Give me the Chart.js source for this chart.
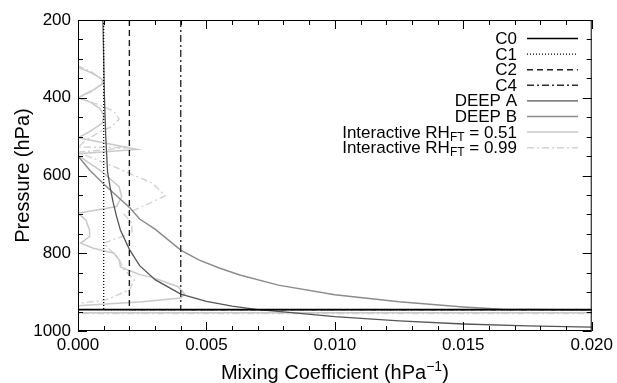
<!DOCTYPE html>
<html>
<head>
<meta charset="utf-8">
<script src="https://cdn.jsdelivr.net/npm/chart.js@4/dist/chart.umd.min.js"></script>
<style>
  html, body { margin: 0; padding: 0; background: #fff; }
</style>
</head>
<body>
<canvas id="chart" width="617" height="383"></canvas>
<script>
// mixing coefficient values are in units of 1e-3 hPa^-1, pressures in hPa
const c0X = [0, 0, 21];
const c0P = [200, 945, 945];
const c1X = [1, 1, 21];
const c1P = [200, 945, 945];
const c2X = [2, 2, 21];
const c2P = [200, 945, 945];
const c4X = [4, 4, 21];
const c4P = [200, 945, 945];

const deepAX = [0.97, 1.0, 1.03, 1.08, 1.15, 1.25, 1.37, 1.5, 1.65, 2.0, 2.4, 3.0, 4.0, 5.0, 6.0, 7.0, 8.0, 10.0, 12.5, 15.0, 17.5, 20.0];
const deepAP = [200, 300, 400, 500, 590, 630, 670, 705, 740, 790, 832, 868, 905, 924, 936, 945, 951, 963, 974, 982, 987, 990];

const deepBX = [0, 0, 0.45, 1.0, 1.5, 2.0, 2.4, 3.0, 4.0, 4.7, 5.5, 6.3, 7.8, 10.0, 12.5, 15.0, 16.5, 20.0, 21];
const deepBP = [200, 550, 586, 622, 652, 682, 712, 738, 792, 817, 838, 856, 882, 907, 925, 938, 944, 946, 946];

const rh51X = [0, 0, 0.5, 0.9, 1.0, 0.6, 0.2, 0, 0.5, 0.85, 1.0, 0.95, 0.5, 0, 1.0, 2.3, 0, 0, 0.85, 1.6, 1.7, 1.5, 0, 0.3, 0.45, 0.45, 0.1, 0.6, 1.4, 1.6, 1.65, 2.1, 2.4, 2.9, 3.9, 4.15, 4.0, 2.5, 0, 0, 21];
const rh51P = [200, 322, 335, 350, 362, 380, 393, 400, 412, 428, 445, 465, 485, 503, 516, 533, 544, 548, 586, 629, 654, 680, 697, 714, 740, 757, 774, 787, 800, 817, 835, 847, 855, 862, 886, 905, 915, 925, 935, 953, 953];

const rh99X = [0, 0, 0.5, 0.9, 0.95, 0.5, 0, 0.7, 1.4, 1.6, 1.3, 0.9, 0.3, 0, 2.0, 0, 1.5, 2.9, 3.4, 2.5, 1.8, 2.1, 2.1, 1.0, 1.6, 1.8, 2.2, 2.0, 1.1, 0, 0, 21];
const rh99P = [200, 318, 332, 352, 365, 385, 400, 415, 435, 455, 475, 485, 510, 527, 528, 540, 580, 620, 652, 680, 700, 722, 748, 774, 815, 843, 869, 894, 920, 929, 955, 955];

const seriesLabels = ['C0', 'C1', 'C2', 'C4', 'DEEP A', 'DEEP B', 'Interactive RH_FT = 0.51', 'Interactive RH_FT = 0.99'];
const xTicks = [0, 0.005, 0.010, 0.015, 0.020];
const yTicks = [200, 400, 600, 800, 1000];
const xMinorStep = 0.001;
const yMinorStep = 50;

const FONT = '"Liberation Sans", Arial, Helvetica, sans-serif';

function pts(xs, ps) {
  return xs.map((v, i) => ({ x: v / 1000, y: ps[i] }));
}

function line(label, xs, ps, color, width, dash) {
  return {
    label: label,
    data: pts(xs, ps),
    borderColor: color,
    backgroundColor: color,
    borderWidth: width,
    borderDash: dash,
    showLine: true,
    pointRadius: 0,
    tension: 0,
  };
}

const datasets = [
  line(seriesLabels[0], c0X, c0P, '#000000', 1.6, []),
  line(seriesLabels[1], c1X, c1P, '#000000', 1.3, [1, 2]),
  line(seriesLabels[2], c2X, c2P, '#1e1e1e', 1.4, [6, 4]),
  line(seriesLabels[3], c4X, c4P, '#2e2e2e', 1.4, [7, 3, 2, 3]),
  line(seriesLabels[4], deepAX, deepAP, '#555555', 1.3, []),
  line(seriesLabels[5], deepBX, deepBP, '#8c8c8c', 1.5, []),
  line(seriesLabels[6], rh51X, rh51P, '#c9c9c9', 1.5, []),
  line(seriesLabels[7], rh99X, rh99P, '#d2d2d2', 1.4, [7, 3, 2, 3]),
];
// dark lines drawn on top of the light ones
datasets.forEach((d, i) => { d.order = i; });

// box + inward ticks on all four sides
const frame = {
  id: 'frame',
  afterDatasetsDraw(chart) {
    const { ctx, chartArea: a, scales: { x, y } } = chart;
    ctx.save();
    ctx.strokeStyle = '#000';
    ctx.lineWidth = 1;
    ctx.setLineDash([]);
    ctx.strokeRect(a.left + 0.5, a.top + 0.5, a.right - a.left - 1, a.bottom - a.top - 1);
    ctx.beginPath();
    for (let v = x.min; v <= x.max + 1e-9; v += xMinorStep) {
      const px = Math.round(x.getPixelForValue(v)) + 0.5;
      const major = xTicks.some(t => Math.abs(t - v) < 1e-7);
      const len = major ? 9 : 5;
      ctx.moveTo(px, a.bottom); ctx.lineTo(px, a.bottom - len);
      ctx.moveTo(px, a.top); ctx.lineTo(px, a.top + len);
    }
    for (let v = y.min; v <= y.max; v += yMinorStep) {
      const py = Math.round(y.getPixelForValue(v)) + 0.5;
      const len = yTicks.includes(v) ? 9 : 5;
      ctx.moveTo(a.left, py); ctx.lineTo(a.left + len, py);
      ctx.moveTo(a.right, py); ctx.lineTo(a.right - len, py);
    }
    ctx.stroke();

    // x title with superscript
    ctx.fillStyle = '#000';
    ctx.textBaseline = 'alphabetic';
    const main = 'Mixing Coefficient (hPa';
    const sup = '\u22121';
    ctx.font = '20px ' + FONT;
    const w1 = ctx.measureText(main).width;
    const w3 = ctx.measureText(')').width;
    ctx.font = '14px ' + FONT;
    const w2 = ctx.measureText(sup).width;
    let tx = (a.left + a.right) / 2 - (w1 + w2 + w3) / 2;
    const ty = 379;
    ctx.font = '20px ' + FONT;
    ctx.fillText(main, tx, ty);
    ctx.font = '14px ' + FONT;
    ctx.fillText(sup, tx + w1, ty - 8);
    ctx.font = '20px ' + FONT;
    ctx.fillText(')', tx + w1 + w2, ty);
    ctx.restore();
  }
};

// legend: right aligned text with a line sample to its right
const legendBox = {
  id: 'legendBox',
  afterDatasetsDraw(chart) {
    const { ctx } = chart;
    ctx.save();
    ctx.textBaseline = 'alphabetic';
    ctx.fillStyle = '#000';
    const textRight = 517, x0 = 527, x1 = 578;
    chart.data.datasets.forEach((d, i) => {
      const cy = 38 + i * 15.6;
      const m = d.label.match(/^(.*)_(\w+)(.*)$/);
      const parts = m ? [[m[1], 17, 0], [m[2], 12, 3], [m[3], 17, 0]] : [[d.label, 17, 0]];
      let total = 0;
      parts.forEach(p => { ctx.font = p[1] + 'px ' + FONT; p.push(ctx.measureText(p[0]).width); total += p[3]; });
      let tx = textRight - total;
      parts.forEach(p => {
        ctx.font = p[1] + 'px ' + FONT;
        ctx.fillText(p[0], tx, cy + 6 + p[2]);
        tx += p[3];
      });
      ctx.beginPath();
      ctx.strokeStyle = d.borderColor;
      ctx.lineWidth = d.borderWidth;
      ctx.setLineDash(d.borderDash || []);
      ctx.moveTo(x0, cy + 0.5);
      ctx.lineTo(x1, cy + 0.5);
      ctx.stroke();
    });
    ctx.restore();
  }
};

new Chart(document.getElementById('chart'), {
  type: 'scatter',
  data: { datasets: datasets },
  options: {
    responsive: false,
    animation: false,
    layout: { padding: { top: 20, right: 22, left: 0, bottom: 0 } },
    plugins: {
      legend: { display: false },
      tooltip: { enabled: false },
    },
    scales: {
      x: {
        type: 'linear',
        min: 0,
        max: 0.02,
        grid: { display: false, drawTicks: false },
        border: { display: false },
        afterBuildTicks: s => { s.ticks = xTicks.map(v => ({ value: v })); },
        afterFit: s => { s.height = 52; },
        ticks: {
          padding: 4,
          color: '#000',
          maxRotation: 0,
          font: { family: FONT, size: 17 },
          callback: v => v.toFixed(3),
        },
      },
      y: {
        type: 'linear',
        reverse: true,
        min: 200,
        max: 1000,
        grid: { display: false, drawTicks: false },
        border: { display: false },
        afterBuildTicks: s => { s.ticks = yTicks.map(v => ({ value: v })); },
        afterFit: s => { s.width = 78; },
        ticks: {
          padding: 7,
          color: '#000',
          font: { family: FONT, size: 17 },
          callback: v => String(v),
        },
        title: {
          display: true,
          text: 'Pressure (hPa)',
          color: '#000',
          font: { family: FONT, size: 20 },
          padding: { top: 11, bottom: 0 },
        },
      },
    },
  },
  plugins: [frame, legendBox],
});
</script>
</body>
</html>
